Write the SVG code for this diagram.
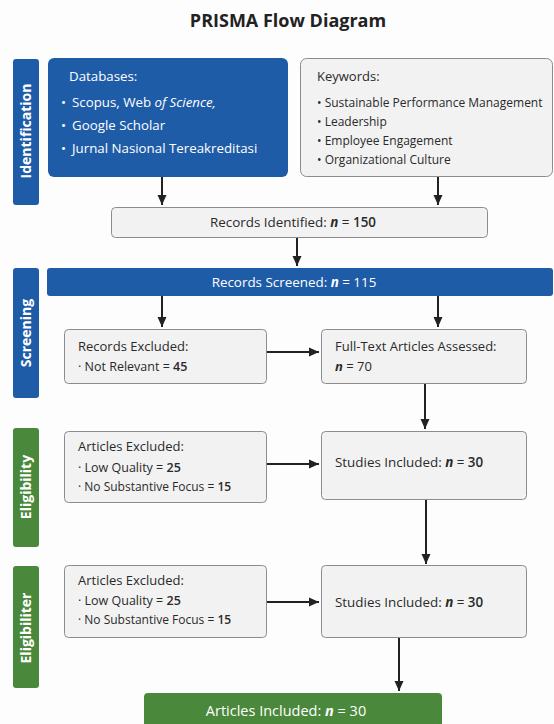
<svg xmlns="http://www.w3.org/2000/svg" width="554" height="724" viewBox="0 0 554 724">
<style>
text{font-family:"Open Sans","Noto Sans","DejaVu Sans",sans-serif;fill:#2a2a2a}
.title{font-size:18px;font-weight:700;fill:#222}
.tab{font-size:14px;font-weight:700;fill:#fff}
.blue{fill:#1f5ca8}
.green{fill:#4a883c}
.box{fill:#f2f2f2;stroke:#8c8c8c;stroke-width:1}
.w{fill:#fff}
.h{font-size:13px}
.t{font-size:12.5px}
.d{font-size:13.3px}
.k{font-size:12px}
.c{font-size:13.4px}
.n{font-weight:700;font-style:italic}
.num{font-weight:600}
.conn{stroke:#222;stroke-width:2;fill:none;marker-end:url(#ah)}
</style>
<defs>
<marker id="ah" markerUnits="userSpaceOnUse" markerWidth="12" markerHeight="12" viewBox="0 0 12 12" refX="10" refY="6" orient="auto">
<path d="M0,1.5 L10,6 L0,10.5 Z" fill="#222"/>
</marker>
</defs>
<rect width="554" height="724" fill="#fdfdfd"/>
<text class="title" x="288" y="27" text-anchor="middle">PRISMA Flow Diagram</text>

<g id="tab-identification">
<rect class="blue" x="13" y="59" width="26" height="146" rx="3"/>
<text class="tab" transform="translate(31,131) rotate(-90)" text-anchor="middle">Identification</text>
</g>
<g id="tab-screening">
<rect class="blue" x="13" y="268" width="26" height="130" rx="3"/>
<text class="tab" transform="translate(31,333) rotate(-90)" text-anchor="middle">Screening</text>
</g>
<g id="tab-eligibility">
<rect class="green" x="13" y="428" width="26" height="119" rx="3"/>
<text class="tab" transform="translate(31,487) rotate(-90)" text-anchor="middle">Eligibility</text>
</g>
<g id="tab-eligibiliter">
<rect class="green" x="13" y="566" width="26" height="122" rx="3"/>
<text class="tab" transform="translate(31,628) rotate(-90)" text-anchor="middle">Eligibiliter</text>
</g>

<g id="databases">
<rect class="blue" x="48" y="58" width="240" height="119" rx="6"/>
<text class="d w" x="69" y="81">Databases:</text>
<text class="d w" x="61" y="107">•</text>
<text class="d w" x="72" y="107">Scopus, Web <tspan font-style="italic">of Science,</tspan></text>
<text class="d w" x="61" y="130">•</text>
<text class="d w" x="72" y="130">Google Scholar</text>
<text class="d w" x="61" y="153">•</text>
<text class="d w" x="72" y="153">Jurnal Nasional Tereakreditasi</text>
</g>

<g id="keywords">
<rect class="box" x="300.5" y="58.5" width="252" height="118" rx="6"/>
<text class="h" x="317" y="81">Keywords:</text>
<text class="k" x="317" y="107">• Sustainable Performance Management</text>
<text class="k" x="317" y="126">• Leadership</text>
<text class="k" x="317" y="145">• Employee Engagement</text>
<text class="k" x="317" y="164">• Organizational Culture</text>
</g>

<g id="records-identified">
<rect class="box" x="111.5" y="207.5" width="376" height="30" rx="4"/>
<text class="c" x="293" y="227" text-anchor="middle">Records Identified:  <tspan class="n">n</tspan> = <tspan class="num">150</tspan></text>
</g>

<g id="records-screened">
<rect class="blue" x="47" y="268" width="506" height="28" rx="3"/>
<text class="c w" x="294" y="286.5" text-anchor="middle">Records Screened: <tspan class="n w">n</tspan> = 115</text>
</g>

<g id="records-excluded">
<rect class="box" x="64.5" y="329.5" width="202" height="54" rx="4"/>
<text class="h" x="78" y="351">Records Excluded:</text>
<text class="t" x="78" y="371">· Not Relevant = <tspan class="num">45</tspan></text>
</g>

<g id="full-text">
<rect class="box" x="321.5" y="329.5" width="205" height="54" rx="4"/>
<text class="h" x="335" y="351">Full-Text Articles Assessed:</text>
<text class="h" x="335" y="371"><tspan class="n">n</tspan> = 70</text>
</g>

<g id="articles-excluded-1">
<rect class="box" x="64.5" y="431.5" width="202" height="71" rx="4"/>
<text class="h" x="78" y="451">Articles Excluded:</text>
<text class="t" x="78" y="472">· Low Quality = <tspan class="num">25</tspan></text>
<text class="k" x="78" y="491">· No Substantive Focus = <tspan class="num">15</tspan></text>
</g>

<g id="studies-included-1">
<rect class="box" x="321.5" y="431.5" width="205" height="68" rx="4"/>
<text class="c" x="335" y="467">Studies Included:  <tspan class="n">n</tspan> = <tspan class="num">30</tspan></text>
</g>

<g id="articles-excluded-2">
<rect class="box" x="64.5" y="565.5" width="202" height="72" rx="4"/>
<text class="h" x="78" y="585">Articles Excluded:</text>
<text class="t" x="78" y="605">· Low Quality = <tspan class="num">25</tspan></text>
<text class="k" x="78" y="624">· No Substantive Focus = <tspan class="num">15</tspan></text>
</g>

<g id="studies-included-2">
<rect class="box" x="321.5" y="565.5" width="205" height="72" rx="4"/>
<text class="c" x="335" y="607">Studies Included:  <tspan class="n">n</tspan> = <tspan class="num">30</tspan></text>
</g>

<g id="articles-included">
<rect class="green" x="144" y="693" width="298" height="40" rx="4"/>
<text class="w" font-size="14.5" x="286" y="716" text-anchor="middle">Articles Included:  <tspan class="n w">n</tspan> = 30</text>
</g>

<g id="connectors">
<line class="conn" x1="162" y1="177" x2="162" y2="205"/>
<line class="conn" x1="438" y1="177" x2="438" y2="205"/>
<line class="conn" x1="297" y1="238" x2="297" y2="266"/>
<line class="conn" x1="162" y1="296" x2="162" y2="327"/>
<line class="conn" x1="438" y1="296" x2="438" y2="327"/>
<line class="conn" x1="267" y1="352" x2="319" y2="352"/>
<line class="conn" x1="425" y1="384" x2="425" y2="429"/>
<line class="conn" x1="267" y1="464" x2="319" y2="464"/>
<line class="conn" x1="426" y1="500" x2="426" y2="564"/>
<line class="conn" x1="267" y1="602" x2="319" y2="602"/>
<line class="conn" x1="399" y1="638" x2="399" y2="691"/>
</g>
</svg>
